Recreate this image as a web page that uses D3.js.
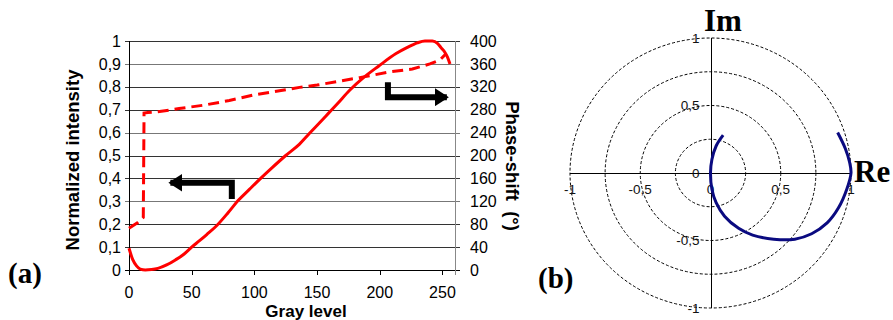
<!DOCTYPE html>
<html>
<head>
<meta charset="utf-8">
<script src="https://cdn.jsdelivr.net/npm/d3@7"></script>
<style>
  body { margin: 0; background: #fff; }
  svg { display: block; font-family: Arial, "Liberation Sans", sans-serif; }
</style>
</head>
<body>
<div id="chart"></div>
<script>
// (a) intensity curve (solid), gray level vs normalized intensity
var grayI = [0, 3, 6, 9, 13, 18, 23, 30, 37, 44, 50, 56, 62, 71, 79, 87, 96, 104, 114, 125, 136, 144, 152, 159, 166, 176, 187, 199, 213, 222, 230, 236, 242, 246, 249, 252, 254, 256];
var intensity = [0.095, 0.045, 0.018, 0.004, 0.0, 0.002, 0.007, 0.022, 0.044, 0.07, 0.10, 0.127, 0.155, 0.2, 0.25, 0.303, 0.352, 0.395, 0.446, 0.5, 0.55, 0.597, 0.643, 0.684, 0.725, 0.785, 0.84, 0.89, 0.945, 0.972, 0.992, 1.0, 1.0, 0.99, 0.97, 0.95, 0.93, 0.9];

// (a) phase curve (dashed), gray level vs phase-shift in degrees
var grayP = [0, 7, 11.4, 12, 15, 22, 40, 60, 80, 100, 120, 136, 150, 168, 184, 208, 226, 240, 248, 253];
var phase = [73, 83, 92, 274, 275, 276, 282, 288, 296, 306, 313, 319, 323, 330, 336, 346, 351, 360, 367, 378];

var xTicks = [0, 50, 100, 150, 200, 250];
var yLeftTicks = [0, 0.1, 0.2, 0.3, 0.4, 0.5, 0.6, 0.7, 0.8, 0.9, 1];
var yRightTicks = [0, 40, 80, 120, 160, 200, 240, 280, 320, 360, 400];

// arrows, in data units: [gray, value]
var arrowLeft = [[82, 0.31], [82, 0.381], [33, 0.381]];
var arrowRight = [[206.5, 328], [206.5, 301.7], [253.5, 301.7]];

// (b) complex amplitude path
var re = [0.09, 0.04, 0.01, 0.0, 0.01, 0.04, 0.1, 0.2, 0.3, 0.45, 0.6, 0.72, 0.83, 0.91, 0.97, 1.0, 0.99, 0.96, 0.905];
var im = [0.28, 0.2, 0.1, 0.0, -0.12, -0.22, -0.32, -0.41, -0.46, -0.49, -0.49, -0.45, -0.37, -0.26, -0.12, 0.0, 0.08, 0.18, 0.3];
var rings = [0.25, 0.5, 0.75, 1];
var polarTicks = [-1, -0.5, 0, 0.5, 1];
var polarLabels = ["-1", "-0,5", "0", "0,5", "1"];

var fmt = function(d) { return String(d).replace(".", ","); };
var serif = "'Liberation Serif', 'Times New Roman', serif";

var svg = d3.select("#chart").append("svg")
  .attr("width", 893)
  .attr("height", 320);

var defs = svg.append("defs");
defs.append("marker")
  .attr("id", "head")
  .attr("markerUnits", "userSpaceOnUse")
  .attr("viewBox", "0 -9 14 18")
  .attr("refX", 12).attr("refY", 0)
  .attr("markerWidth", 14).attr("markerHeight", 18)
  .attr("orient", "auto")
  .append("path")
  .attr("d", "M0,-9L14,0L0,9Z")
  .attr("fill", "#000");

// ---------- panel (a) ----------
var x = d3.scaleLinear().domain([0, 260]).range([129, 455]);
var yL = d3.scaleLinear().domain([0, 1]).range([270, 41]);
var yR = d3.scaleLinear().domain([0, 400]).range([270, 41]);

var a = svg.append("g");

// gridlines
a.selectAll(".grid").data(yLeftTicks).enter().append("line")
  .attr("x1", x(0) - 4).attr("x2", x(260) + 5)
  .attr("y1", function(d) { return Math.round(yL(d)) + 0.5; })
  .attr("y2", function(d) { return Math.round(yL(d)) + 0.5; })
  .attr("stroke", function(d, i) { return i % 3 === 0 ? "#777" : "#333"; })
  .attr("stroke-width", 1);

// right axis line
a.append("line")
  .attr("x1", x(260) + 0.5).attr("x2", x(260) + 0.5)
  .attr("y1", yL(1)).attr("y2", yL(0))
  .attr("stroke", "#888");

// left axis line
a.append("line")
  .attr("x1", x(0) + 0.5).attr("x2", x(0) + 0.5)
  .attr("y1", yL(1)).attr("y2", yL(0) + 4)
  .attr("stroke", "#000");

// bottom axis
a.append("line")
  .attr("x1", x(0) - 4).attr("x2", x(260) + 5)
  .attr("y1", Math.round(yL(0)) + 0.5).attr("y2", Math.round(yL(0)) + 0.5)
  .attr("stroke", "#000");
a.selectAll(".xt").data(xTicks.concat([260])).enter().append("line")
  .attr("x1", function(d) { return Math.round(x(d)) + 0.5; })
  .attr("x2", function(d) { return Math.round(x(d)) + 0.5; })
  .attr("y1", yL(0)).attr("y2", yL(0) + 5)
  .attr("stroke", function(d) { return d === 260 ? "#888" : "#000"; });

// tick labels
a.selectAll(".xl").data(xTicks).enter().append("text")
  .attr("x", function(d) { return x(d); })
  .attr("y", 298)
  .attr("text-anchor", "middle")
  .attr("font-size", 16)
  .text(function(d) { return d; });

a.selectAll(".yl").data(yLeftTicks).enter().append("text")
  .attr("x", 121)
  .attr("y", function(d) { return yL(d); })
  .attr("dy", "0.35em")
  .attr("text-anchor", "end")
  .attr("font-size", 16)
  .text(fmt);

a.selectAll(".yr").data(yRightTicks).enter().append("text")
  .attr("x", 470)
  .attr("y", function(d) { return yR(d); })
  .attr("dy", "0.35em")
  .attr("font-size", 16)
  .text(function(d) { return d; });

// axis titles
a.append("text")
  .attr("transform", "translate(79,160) rotate(-90)")
  .attr("text-anchor", "middle")
  .attr("font-size", 18.5)
  .attr("font-weight", "bold")
  .text("Normalized intensity");

a.append("text")
  .attr("transform", "translate(506,166) rotate(90)")
  .attr("text-anchor", "middle")
  .attr("font-size", 18.5)
  .attr("font-weight", "bold")
  .text("Phase-shift\u00a0 (°)");

a.append("text")
  .attr("x", 306).attr("y", 317)
  .attr("text-anchor", "middle")
  .attr("font-size", 17)
  .attr("font-weight", "bold")
  .text("Gray level");

// curves
var lineI = d3.line()
  .x(function(d, i) { return x(grayI[i]); })
  .y(function(d) { return yL(d); })
  .curve(d3.curveMonotoneX);
a.append("path")
  .datum(intensity)
  .attr("d", lineI)
  .attr("fill", "none")
  .attr("stroke", "#ff0000")
  .attr("stroke-width", 3);

var lineP = d3.line()
  .x(function(d, i) { return x(grayP[i]); })
  .y(function(d) { return yR(d); });
a.append("path")
  .datum(phase)
  .attr("d", lineP)
  .attr("fill", "none")
  .attr("stroke", "#ff0000")
  .attr("stroke-width", 3)
  .attr("stroke-dasharray", "11,6");

// arrows
var arrowL = d3.line()
  .x(function(d) { return x(d[0]); })
  .y(function(d) { return yL(d[1]); });
var arrowR = d3.line()
  .x(function(d) { return x(d[0]); })
  .y(function(d) { return yR(d[1]); });
a.append("path")
  .attr("d", arrowL(arrowLeft))
  .attr("fill", "none").attr("stroke", "#000").attr("stroke-width", 6)
  .attr("marker-end", "url(#head)");
a.append("path")
  .attr("d", arrowR(arrowRight))
  .attr("fill", "none").attr("stroke", "#000").attr("stroke-width", 6)
  .attr("marker-end", "url(#head)");

a.append("text")
  .attr("x", 8).attr("y", 283)
  .style("font-family", serif)
  .attr("font-size", 29)
  .attr("font-weight", "bold")
  .text("(a)");

// ---------- panel (b) ----------
var xP = d3.scaleLinear().domain([-1, 1]).range([570, 851]);
var yP = d3.scaleLinear().domain([-1, 1]).range([308, 38]);
var b = svg.append("g");

b.selectAll(".ring").data(rings).enter().append("ellipse")
  .attr("cx", xP(0)).attr("cy", yP(0))
  .attr("rx", function(d) { return xP(d) - xP(0); })
  .attr("ry", function(d) { return yP(0) - yP(d); })
  .attr("fill", "none")
  .attr("stroke", "#000")
  .attr("stroke-width", 1)
  .attr("stroke-dasharray", "3,2");

b.append("line")
  .attr("x1", xP(-1)).attr("x2", xP(1))
  .attr("y1", Math.round(yP(0)) + 0.5).attr("y2", Math.round(yP(0)) + 0.5)
  .attr("stroke", "#000");
b.append("line")
  .attr("x1", Math.round(xP(0)) + 0.5).attr("x2", Math.round(xP(0)) + 0.5)
  .attr("y1", yP(1)).attr("y2", yP(-1))
  .attr("stroke", "#000");

b.selectAll(".px").data(polarTicks).enter().append("text")
  .attr("x", function(d) { return xP(d); })
  .attr("y", yP(0) + 16)
  .attr("dy", "0.35em")
  .attr("text-anchor", "middle")
  .attr("font-size", 13.5)
  .attr("fill", "#111")
  .text(function(d, i) { return polarLabels[i]; });

b.selectAll(".py").data(polarTicks).enter().append("text")
  .attr("x", xP(0) - 11)
  .attr("y", function(d) { return yP(d); })
  .attr("dy", "0.35em")
  .attr("text-anchor", "end")
  .attr("font-size", 13.5)
  .attr("fill", "#111")
  .text(function(d, i) { return polarLabels[i]; });

var spiral = d3.line()
  .x(function(d, i) { return xP(re[i]); })
  .y(function(d) { return yP(d); })
  .curve(d3.curveCatmullRom);
b.append("path")
  .datum(im)
  .attr("d", spiral)
  .attr("fill", "none")
  .attr("stroke", "#0a0a80")
  .attr("stroke-width", 3);

b.append("text")
  .attr("x", 704).attr("y", 31)
  .style("font-family", serif).attr("font-size", 31).attr("font-weight", "bold")
  .text("Im");
b.append("text")
  .attr("x", 854).attr("y", 182)
  .style("font-family", serif).attr("font-size", 31).attr("font-weight", "bold")
  .text("Re");
b.append("text")
  .attr("x", 538).attr("y", 288)
  .style("font-family", serif).attr("font-size", 29).attr("font-weight", "bold")
  .text("(b)");
</script>
</body>
</html>
